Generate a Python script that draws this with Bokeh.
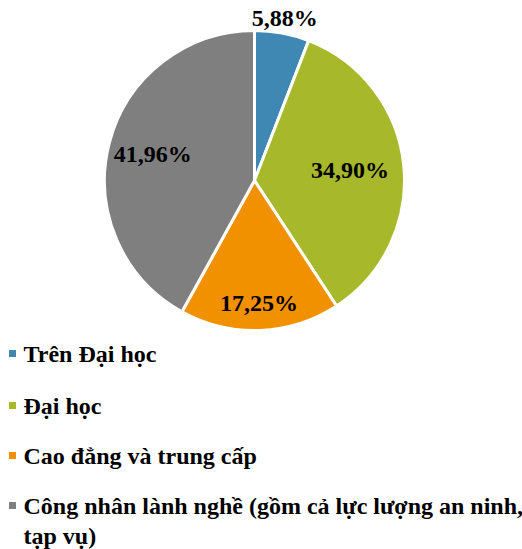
import numpy as np
from bokeh.plotting import figure
from bokeh.models import Range1d, ColumnDataSource
from bokeh.core.properties import value
from bokeh.embed import file_html
from bokeh.resources import INLINE

categories = ["Trên Đại học", "Đại học", "Cao đẳng và trung cấp",
              "Công nhân lành nghề (gồm cả lực lượng an ninh, tạp vụ)"]
shares = [5.88, 34.90, 17.25, 41.96]
share_labels = ["5,88%", "34,90%", "17,25%", "41,96%"]
colors = ["#3F88B4", "#A7B82B", "#F29100", "#7F7F7F"]

FONT = value("Times New Roman")

W, H = 522, 549
cx, cy, R = 254, H - 180, 150
label_r = [1.10, 0.64, 0.82, 0.70]

p = figure(width=W, height=H, output_backend="svg", toolbar_location=None,
           x_range=Range1d(0, W), y_range=Range1d(0, H), min_border=0)
p.axis.visible = False
p.grid.visible = False
p.outline_line_color = None
p.background_fill_color = "white"

frac = np.array(shares) / sum(shares)
cum = np.concatenate([[0], np.cumsum(frac)])
# clockwise from top
start = np.pi / 2 - cum[1:] * 2 * np.pi
end = np.pi / 2 - cum[:-1] * 2 * np.pi
mid = (start + end) / 2

src = ColumnDataSource(dict(start=start, end=end, color=colors))
p.wedge(x=cx, y=cy, radius=R, start_angle="start", end_angle="end",
        fill_color="color", line_color="white", line_width=3, source=src)

lx = cx + np.array(label_r) * R * np.cos(mid)
ly = cy + np.array(label_r) * R * np.sin(mid)
p.text(x=lx, y=ly, text=share_labels, text_font=FONT,
       text_font_style="bold", text_font_size="24px", text_align="center",
       text_baseline="middle", text_color="black")

# legend
rows_y = [H - 353, H - 405, H - 455, H - 505]
leg_text = list(categories)
leg_text[3] = "Công nhân lành nghề (gồm cả lực lượng an ninh,"
p.rect(x=[12] * 4, y=rows_y, width=7, height=7, fill_color=colors, line_color=None)
p.text(x=[23] * 4, y=rows_y, text=leg_text, text_font=FONT,
       text_font_style="bold", text_font_size="24px", text_align="left",
       text_baseline="middle", text_color="black")
p.text(x=[23], y=[H - 535], text=["tạp vụ)"], text_font=FONT,
       text_font_style="bold", text_font_size="24px", text_align="left",
       text_baseline="middle", text_color="black")

open("out.html", "w").write(file_html(p, INLINE))
